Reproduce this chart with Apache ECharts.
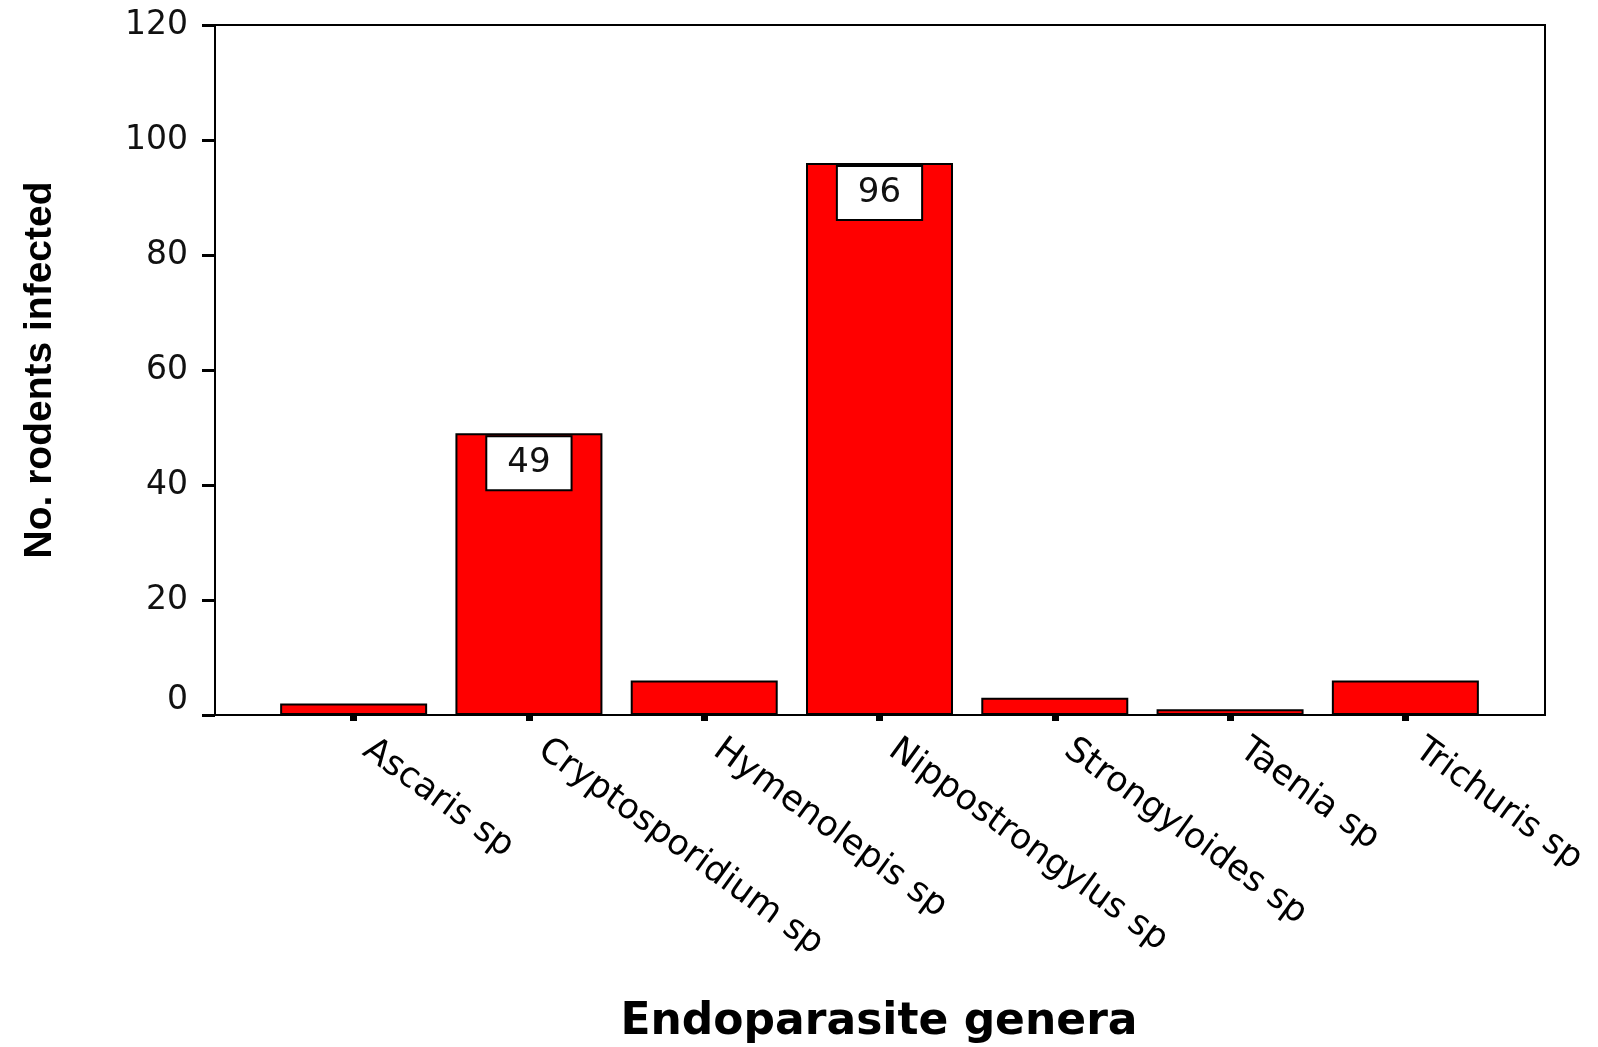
<!DOCTYPE html>
<html>
<head>
<meta charset="utf-8">
<script src="https://cdn.jsdelivr.net/npm/echarts@6/dist/echarts.min.js"></script>
<style>
html,body{margin:0;padding:0;background:#fff;}
#chart{width:1598px;height:1047px;}
</style>
</head>
<body>
<div id="chart"></div>
<script>
var categories = ['Ascaris sp', 'Cryptosporidium sp', 'Hymenolepis sp', 'Nippostrongylus sp', 'Strongyloides sp', 'Taenia sp', 'Trichuris sp'];
var infected = [2, 49, 6, 96, 3, 1, 6];
var labelledValues = [49, 96];
var yTicks = { min: 0, max: 120, interval: 20 };
var xTitle = 'Endoparasite genera';
var yTitle = 'No. rodents infected';

var barData = infected.map(function (v) {
  return { value: v, label: { show: labelledValues.indexOf(v) >= 0 } };
});

var chart = echarts.init(document.getElementById('chart'));
var option = {
  backgroundColor: '#fff',
  animation: false,
  title: {
    text: xTitle,
    left: 874,
    textAlign: 'center',
    top: 996,
    textStyle: { fontFamily: 'DejaVu Sans', fontWeight: 'bold', fontSize: 44, color: '#000' }
  },
  grid: [
    { left: 215, top: 25, width: 1330, height: 690, show: true, borderColor: '#000', borderWidth: 2, backgroundColor: 'transparent' },
    { left: 266, top: 25, width: 1227, height: 690 }
  ],
  xAxis: [
    { gridIndex: 0, type: 'value', min: 0, max: 1, show: false },
    {
      gridIndex: 1, type: 'category', data: categories,
      axisLine: { show: false },
      axisTick: { show: true, alignWithLabel: true, length: 6, lineStyle: { color: '#000', width: 7 } },
      axisLabel: { rotate: -36, margin: 22, padding: [0, 0, 0, 16], fontFamily: 'DejaVu Sans', fontSize: 35, color: '#000', interval: 0 }
    }
  ],
  yAxis: [
    {
      gridIndex: 0, type: 'value', min: yTicks.min, max: yTicks.max, interval: yTicks.interval,
      name: yTitle, nameLocation: 'middle', nameGap: 155,
      nameTextStyle: { fontFamily: 'Liberation Sans', fontWeight: 'bold', fontSize: 39, color: '#000' },
      axisLine: { show: true, lineStyle: { color: '#000', width: 2 } },
      axisTick: { show: true, length: 13, lineStyle: { color: '#000', width: 3 } },
      splitLine: { show: false },
      axisLabel: {
        margin: 27, fontFamily: 'DejaVu Sans', fontSize: 33, color: '#111',
        formatter: function (v) { return v === 0 ? '{z|0}' : String(v); },
        rich: { z: { fontFamily: 'DejaVu Sans', fontSize: 33, color: '#111', padding: [0, 0, 30, 0] } }
      }
    },
    { gridIndex: 1, type: 'value', min: yTicks.min, max: yTicks.max, interval: yTicks.interval, show: false }
  ],
  series: [{
    type: 'bar', xAxisIndex: 1, yAxisIndex: 1,
    data: barData,
    barWidth: 147,
    itemStyle: { color: '#ff0000', borderColor: '#000', borderWidth: 2 },
    label: {
      position: 'insideTop', distance: 4,
      fontFamily: 'DejaVu Sans', fontSize: 34, color: '#111',
      backgroundColor: '#fff', borderColor: '#000', borderWidth: 2,
      padding: [9, 20]
    }
  }]
};
chart.setOption(option);
</script>
</body>
</html>
